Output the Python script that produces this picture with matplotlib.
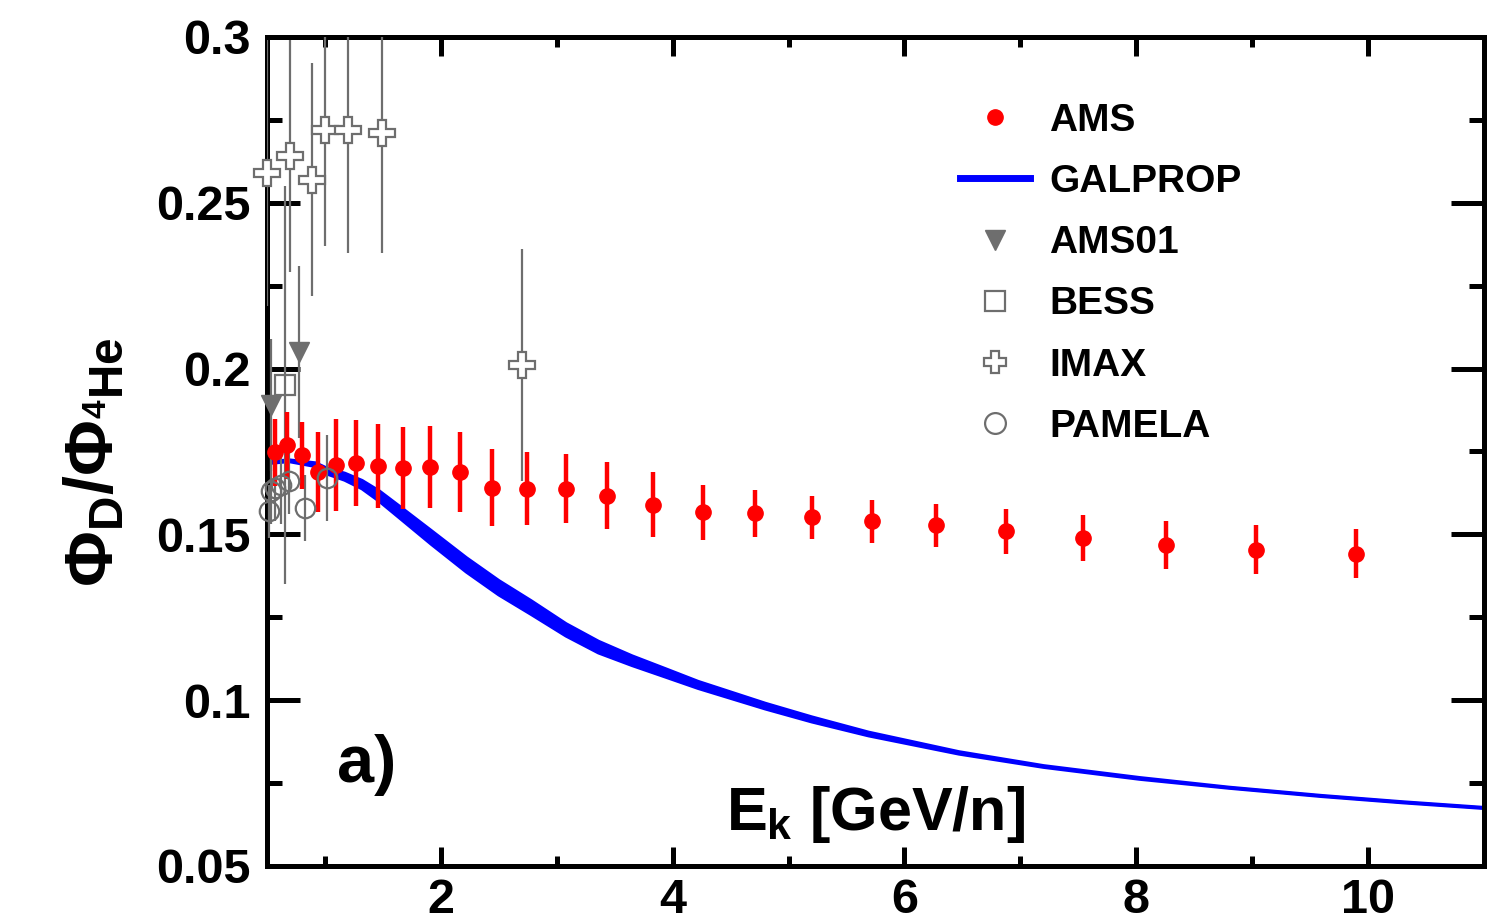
import matplotlib
matplotlib.use('Agg')
from matplotlib import pyplot as plt
from matplotlib.lines import Line2D
from matplotlib.ticker import MultipleLocator, FormatStrFormatter
import numpy as np

plt.rcParams['font.family'] = 'Liberation Sans'
plt.rcParams['font.weight'] = 'bold'
plt.rcParams['mathtext.fontset'] = 'custom'
plt.rcParams['mathtext.rm'] = 'Liberation Sans:bold'
plt.rcParams['mathtext.it'] = 'Liberation Sans:bold'
plt.rcParams['mathtext.bf'] = 'Liberation Sans:bold'

# AMS D/4He flux ratio vs kinetic energy per nucleon
ams_e = [0.569, 0.672, 0.802, 0.940, 1.095, 1.267, 1.457, 1.672, 1.905, 2.164,
         2.440, 2.741, 3.078, 3.431, 3.828, 4.259, 4.707, 5.198, 5.724, 6.276,
         6.879, 7.543, 8.259, 9.034, 9.897]
ams_r = [0.1747, 0.1768, 0.1738, 0.1689, 0.1710, 0.1716, 0.1707, 0.1701, 0.1704, 0.1689,
         0.1641, 0.1638, 0.1638, 0.1617, 0.1590, 0.1566, 0.1563, 0.1551, 0.1539, 0.1527,
         0.1509, 0.1490, 0.1469, 0.1454, 0.1442]
ams_err = [0.0100, 0.0100, 0.0100, 0.0121, 0.0139, 0.0130, 0.0127, 0.0124, 0.0124, 0.0121,
           0.0115, 0.0110, 0.0104, 0.0100, 0.0097, 0.0083, 0.0072, 0.0066, 0.0066, 0.0066,
           0.0069, 0.0069, 0.0072, 0.0075, 0.0075]

# GALPROP prediction (band centre and half width)
gal_e = [0.50, 0.69, 0.92, 1.03, 1.17, 1.32, 1.47, 1.64, 1.92, 2.22, 2.50, 2.78,
         3.08, 3.36, 3.65, 3.94, 4.22, 4.51, 4.80, 5.20, 5.69, 6.47, 7.20, 8.03,
         8.80, 9.60, 10.30, 11.0]
gal_mid = [0.1716, 0.1722, 0.1710, 0.1689, 0.1674, 0.1650, 0.1615, 0.1568, 0.1490, 0.1408,
           0.1339, 0.1279, 0.1212, 0.1160, 0.1119, 0.1082, 0.1046, 0.1014, 0.0982, 0.0942,
           0.0898, 0.0841, 0.0800, 0.0764, 0.0736, 0.0711, 0.0692, 0.0675]
gal_hw = [0.0002, 0.0002, 0.0005, 0.0008, 0.0010, 0.0012, 0.0015, 0.0017, 0.0020, 0.0021,
          0.0021, 0.0020, 0.0018, 0.0017, 0.0014, 0.0012, 0.0010, 0.0009, 0.0008, 0.0007,
          0.0005, 0.0003, 0.0002, 0.0002, 0.0001, 0.0001, 0.0001, 0.0001]

# older measurements
ams01_e = [0.53, 0.78]
ams01_r = [0.189, 0.205]
ams01_err = [0.020, 0.026]

bess_e = [0.655]
bess_r = [0.195]
bess_err = [0.060]

imax_e = [0.50, 0.70, 0.89, 1.00, 1.20, 1.49, 2.70]
imax_r = [0.259, 0.264, 0.257, 0.272, 0.272, 0.271, 0.201]
imax_err = [0.040, 0.035, 0.035, 0.035, 0.037, 0.036, 0.035]

pamela_e = [0.52, 0.53, 0.57, 0.62, 0.69, 0.83, 1.02]
pamela_r = [0.157, 0.163, 0.164, 0.165, 0.166, 0.158, 0.167]
pamela_err = [0.008, 0.010, 0.010, 0.012, 0.010, 0.010, 0.013]

grey = '#6e6e6e'

fig = plt.figure(figsize=(15.07, 9.24), dpi=100)
ax = fig.add_axes([0.1772, 0.0628, 0.8075, 0.8972])

lo = np.array(gal_mid) - np.array(gal_hw)
hi = np.array(gal_mid) + np.array(gal_hw)
ax.fill_between(gal_e, lo, hi, color='blue', lw=0, zorder=2)
ax.plot(gal_e, lo, color='blue', lw=2.5, zorder=2, solid_joinstyle='round')
ax.plot(gal_e, hi, color='blue', lw=2.5, zorder=2, solid_joinstyle='round')

ax.errorbar(ams_e, ams_r, yerr=ams_err, fmt='o', color='red', ms=11,
            elinewidth=3.2, capsize=0, zorder=4)

for e, r, err in [(ams01_e, ams01_r, ams01_err), (bess_e, bess_r, bess_err),
                  (imax_e, imax_r, imax_err), (pamela_e, pamela_r, pamela_err)]:
    ax.errorbar(e, r, yerr=err, fmt='none', ecolor=grey, elinewidth=1.6,
                capsize=0, zorder=3)

ax.plot(ams01_e, ams01_r, 'v', color=grey, ms=15, zorder=5, clip_on=False)
ax.plot(bess_e, bess_r, 's', mfc='none', mec=grey, mew=1.6, ms=15, zorder=5)
ax.plot(imax_e, imax_r, 'P', mfc='white', mec=grey, mew=1.6, ms=19, zorder=5,
        clip_on=False)
ax.plot(pamela_e, pamela_r, 'o', mfc='none', mec=grey, mew=1.6, ms=14, zorder=5,
        clip_on=False)

ax.set_xlim(0.5, 11)
ax.set_ylim(0.05, 0.3)
ax.xaxis.set_major_locator(MultipleLocator(2))
ax.xaxis.set_minor_locator(MultipleLocator(1))
ax.yaxis.set_major_locator(MultipleLocator(0.05))
ax.yaxis.set_minor_locator(MultipleLocator(0.025))
ax.yaxis.set_major_formatter(FormatStrFormatter('%g'))

for s in ax.spines.values():
    s.set_linewidth(3.6)
ax.tick_params(axis='both', which='both', direction='in', top=True, right=True,
               width=3.6, labelsize=35)
ax.tick_params(axis='x', which='major', length=14, pad=9)
ax.tick_params(axis='x', which='minor', length=7)
ax.tick_params(axis='y', which='major', length=24, pad=12)
ax.tick_params(axis='y', which='minor', length=11)

ax.text(0.5, 0.062, r'$E_k$ [GeV/n]', transform=ax.transAxes, fontsize=44,
        ha='center', va='center')
ax.text(1.1, 0.0805, 'a)', fontsize=48, ha='left', va='center')
fig.text(0.063, 0.500, r'$\Phi_D/\Phi_{^4He}$', rotation=90, fontsize=49,
         ha='center', va='center')

handles = [
    Line2D([], [], ls='none', marker='o', color='red', ms=11),
    Line2D([], [], color='blue', lw=5),
    Line2D([], [], ls='none', marker='v', color=grey, ms=15),
    Line2D([], [], ls='none', marker='s', mfc='none', mec=grey, mew=1.6, ms=15),
    Line2D([], [], ls='none', marker='P', mfc='white', mec=grey, mew=1.6, ms=16),
    Line2D([], [], ls='none', marker='o', mfc='none', mec=grey, mew=1.6, ms=15),
]
labels = ['AMS', 'GALPROP', 'AMS01', 'BESS', 'IMAX', 'PAMELA']
fig.legend(handles, labels, loc='upper left', bbox_to_anchor=(0.637, 0.889),
           frameon=False, fontsize=28, borderpad=0, borderaxespad=0,
           handlelength=1.8, handletextpad=0.5, labelspacing=0.65)

fig.savefig('out.png', dpi=100)
